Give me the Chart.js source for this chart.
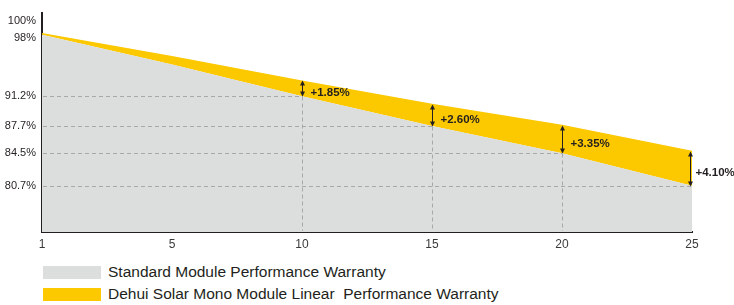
<!DOCTYPE html>
<html>
<head>
<meta charset="utf-8">
<script src="https://cdn.jsdelivr.net/npm/chart.js@4.4.1/dist/chart.umd.min.js"></script>
<style>
  body { margin: 0; background: #fff; font-family: "Liberation Sans", Arial, sans-serif; color: #231f20; }
  #wrap { width: 734px; height: 305px; position: relative; }
  .legend { position: absolute; left: 43px; top: 261px; }
  .legend .row { height: 22px; display: flex; align-items: center; font-size: 15.5px; }
  .legend .box { width: 58px; height: 13px; margin-right: 7px; }
</style>
</head>
<body>
<div id="wrap">
  <canvas id="warrantyChart" width="734" height="255"></canvas>
  <div class="legend">
    <div class="row"><span class="box" style="background:#dcdddd"></span>Standard Module Performance Warranty</div>
    <div class="row"><span class="box" style="background:#fcc800"></span>Dehui Solar Mono Module Linear&nbsp; Performance Warranty</div>
  </div>
</div>
<script>
// ===== DATA =====
const years = ['1', '5', '10', '15', '20', '25'];
const standardValues = [98.4, 94.9, 91.2, 87.7, 84.5, 80.7];
const dehuiValues = [98.6, 95.9, 93.05, 90.3, 87.85, 84.8];
const yTicks = [100, 98, 91.2, 87.7, 84.5, 80.7];
const gainLabels = ['', '', '+1.85%', '+2.60%', '+3.35%', '+4.10%'];
const markedIdx = [2, 3, 4, 5];

const INK = '#231f20';

// --- dashed guides, arrows and gain labels ---
const guidePlugin = {
    id: 'guides',
    afterDatasetsDraw(chart) {
        const { ctx, chartArea, scales: { x, y } } = chart;
        const last = years.length - 1;
        ctx.save();
        markedIdx.forEach(i => {
            const px = Math.round(x.getPixelForValue(i)) + 0.5;
            const yStd = Math.round(y.getPixelForValue(standardValues[i])) + 0.5;
            const yDh = Math.round(y.getPixelForValue(dehuiValues[i])) + 0.5;

            // dashed lines
            ctx.setLineDash([4, 3]);
            ctx.strokeStyle = '#a8a8a8';
            ctx.lineWidth = 1;
            ctx.beginPath();
            ctx.moveTo(chartArea.left + 1, yStd);
            ctx.lineTo(px, yStd);
            if (i < last) {
                ctx.moveTo(px, yStd);
                ctx.lineTo(px, chartArea.bottom - 1);
            }
            ctx.stroke();

            // double arrow
            const ax = i === last ? px - 2 : px;
            ctx.setLineDash([]);
            ctx.strokeStyle = INK;
            ctx.fillStyle = INK;
            ctx.beginPath();
            ctx.moveTo(ax, yDh + 3);
            ctx.lineTo(ax, yStd - 3);
            ctx.stroke();
            ctx.beginPath();
            ctx.moveTo(ax, yDh);
            ctx.lineTo(ax - 2.5, yDh + 5);
            ctx.lineTo(ax + 2.5, yDh + 5);
            ctx.closePath();
            ctx.moveTo(ax, yStd);
            ctx.lineTo(ax - 2.5, yStd - 5);
            ctx.lineTo(ax + 2.5, yStd - 5);
            ctx.closePath();
            ctx.fill();

            // label
            ctx.font = 'bold 11.5px "Liberation Sans", Arial, sans-serif';
            ctx.textAlign = 'left';
            ctx.textBaseline = 'middle';
            const gap = i === last ? 5 : 8;
            ctx.fillText(gainLabels[i], ax + gap, (yStd + yDh) / 2 + 4);
        });
        ctx.restore();
    }
};

new Chart(document.getElementById('warrantyChart'), {
    type: 'line',
    data: {
        labels: years,
        datasets: [
            {
                label: 'Standard Module Performance Warranty',
                data: standardValues,
                backgroundColor: '#dcdddd',
                borderWidth: 0,
                pointRadius: 0,
                fill: 'start',
                tension: 0
            },
            {
                label: 'Dehui Solar Mono Module Linear Performance Warranty',
                data: dehuiValues,
                backgroundColor: '#fcc800',
                borderWidth: 0,
                pointRadius: 0,
                fill: '-1',
                tension: 0
            }
        ]
    },
    options: {
        responsive: false,
        animation: false,
        devicePixelRatio: 1,
        layout: { padding: { top: 12, right: 42, left: 0, bottom: 0 } },
        plugins: {
            legend: { display: false },
            tooltip: { enabled: false }
        },
        scales: {
            x: {
                type: 'category',
                offset: false,
                grid: { display: false, drawTicks: false },
                border: { color: INK, width: 2 },
                ticks: {
                    color: '#3a3a3a',
                    padding: 5,
                    maxRotation: 0,
                    font: { family: '"Liberation Sans", Arial, sans-serif', size: 12 }
                },
                afterFit: s => { s.height = 23; }
            },
            y: {
                min: 75.27,
                max: 101,
                afterBuildTicks: s => { s.ticks = yTicks.map(v => ({ value: v })); },
                grid: { display: false, drawTicks: false },
                border: { color: INK, width: 2 },
                ticks: {
                    autoSkip: false,
                    color: INK,
                    padding: 6,
                    font: { family: '"Liberation Sans", Arial, sans-serif', size: 11 },
                    callback: v => v + '%'
                },
                afterFit: s => { s.width = 42; }
            }
        }
    },
    plugins: [guidePlugin]
});
</script>
</body>
</html>
